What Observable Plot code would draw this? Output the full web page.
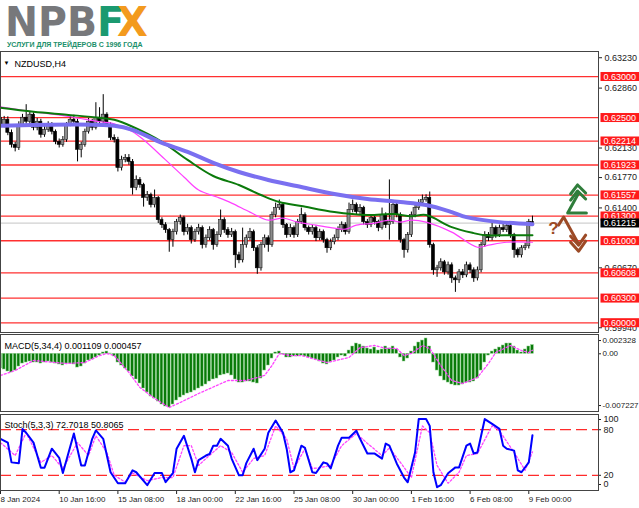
<!DOCTYPE html>
<html><head><meta charset="utf-8">
<script src="https://cdn.jsdelivr.net/npm/d3@7"></script>
<script src="https://cdn.jsdelivr.net/npm/@observablehq/plot@0.6"></script>
<style>
html,body{margin:0;padding:0;background:#fff;}
#wrap{position:relative;width:639px;height:508px;overflow:hidden;}
.panel{position:absolute;left:0;}
#logo{position:absolute;left:0;top:0;z-index:5;overflow:visible;}
</style></head><body>
<div id="wrap">
  <div id="main" class="panel" style="top:0px"></div>
  <div id="macd" class="panel" style="top:333px"></div>
  <div id="stoch" class="panel" style="top:412px"></div>
  <svg id="logo" width="170" height="50">
    <g font-family="DejaVu Sans" font-weight="bold" font-size="40">
      <text x="5" y="36" fill="#77787b" textLength="92" lengthAdjust="spacingAndGlyphs">NPB</text>
      <text x="97" y="36" fill="#1b9a70">F</text>
      <text x="117" y="36" fill="#f39a1e">X</text>
    </g>
    <text x="7" y="47" font-family="Liberation Sans" font-weight="bold" font-size="7" fill="#1a8f6a">УСЛУГИ ДЛЯ ТРЕЙДЕРОВ С 1996 ГОДА</text>
  </svg>
</div>
<script>
// ---------- price data (NZDUSD, H4) ----------
const open = [0.62499,0.62413,0.62474,0.62315,0.62169,0.62132,0.62413,0.62499,0.62450,0.62536,
0.62377,0.62450,0.62291,0.62352,0.62413,0.62328,0.62205,0.62169,0.62230,0.62413,
0.62474,0.62450,0.62108,0.62169,0.62328,0.62450,0.62377,0.62499,0.62450,0.62536,
0.62413,0.62254,0.62230,0.61887,0.61985,0.62010,0.61961,0.61643,0.61741,0.61679,
0.61521,0.61557,0.61435,0.61521,0.61251,0.61190,0.61129,0.61007,0.61105,0.61227,
0.61276,0.61105,0.61154,0.61007,0.61105,0.61154,0.60946,0.61031,0.61129,0.60946,
0.61068,0.61251,0.61129,0.61068,0.61105,0.60823,0.60762,0.60946,0.61031,0.61105,
0.60909,0.60664,0.60946,0.61031,0.60946,0.61313,0.61398,0.61435,0.61190,0.61068,
0.61154,0.61068,0.61227,0.61313,0.61154,0.61105,0.61154,0.61031,0.61105,0.61007,
0.60909,0.60982,0.61031,0.61129,0.61190,0.61105,0.61374,0.61435,0.61349,0.61398,
0.61227,0.61190,0.61276,0.61227,0.61154,0.61313,0.61190,0.61227,0.61435,0.61313,
0.61007,0.60885,0.61068,0.61313,0.61398,0.61459,0.61496,0.61521,0.60946,0.60640,
0.60664,0.60738,0.60615,0.60701,0.60542,0.60518,0.60615,0.60579,0.60701,0.60640,
0.60542,0.60640,0.60946,0.61068,0.61031,0.61154,0.61068,0.61154,0.61129,0.61178,
0.61068,0.60885,0.60823,0.60909,0.60933,0.61227];
const high = [0.62540,0.62515,0.62510,0.62350,0.62200,0.62450,0.62540,0.62658,0.62575,0.62560,
0.62490,0.62480,0.62400,0.62450,0.62440,0.62350,0.62240,0.62270,0.62440,0.62520,
0.62530,0.62480,0.62200,0.62360,0.62490,0.62480,0.62682,0.62621,0.62780,0.62560,
0.62440,0.62290,0.62260,0.62030,0.62050,0.62050,0.61990,0.61790,0.61770,0.61700,
0.61600,0.61580,0.61618,0.61540,0.61280,0.61220,0.61150,0.61140,0.61260,0.61313,
0.61300,0.61200,0.61180,0.61140,0.61200,0.61180,0.61070,0.61170,0.61150,0.61110,
0.61374,0.61280,0.61160,0.61150,0.61130,0.60860,0.61154,0.61070,0.61150,0.61130,
0.60940,0.60980,0.61070,0.61060,0.61350,0.61459,0.61496,0.61460,0.61210,0.61200,
0.61180,0.61260,0.61398,0.61340,0.61180,0.61190,0.61180,0.61140,0.61130,0.61030,
0.61020,0.61070,0.61170,0.61230,0.61220,0.61459,0.61496,0.61460,0.61440,0.61420,
0.61260,0.61310,0.61300,0.61250,0.61398,0.61340,0.61741,0.61470,0.61460,0.61340,
0.61030,0.61100,0.61350,0.61440,0.61500,0.61557,0.61560,0.61594,0.60970,0.60700,
0.60780,0.60760,0.60740,0.60730,0.60570,0.60650,0.60650,0.60740,0.60730,0.60670,
0.60680,0.60980,0.61110,0.61100,0.61227,0.61180,0.61190,0.61227,0.61210,0.61200,
0.61090,0.60910,0.60940,0.60970,0.61260,0.61300];
const low = [0.62370,0.62375,0.62280,0.62130,0.62083,0.62100,0.62380,0.62420,0.62410,0.62340,
0.62340,0.62250,0.62260,0.62320,0.62290,0.62170,0.62130,0.62140,0.62200,0.62390,
0.62420,0.61961,0.62010,0.62140,0.62300,0.62340,0.62350,0.62420,0.62420,0.62380,
0.62220,0.62190,0.61838,0.61850,0.61950,0.61920,0.61557,0.61610,0.61640,0.61410,
0.61480,0.61400,0.61400,0.61210,0.61150,0.61090,0.60860,0.60921,0.61070,0.61190,
0.61060,0.61070,0.60960,0.60980,0.61070,0.60900,0.60910,0.61000,0.60885,0.60920,
0.61040,0.61090,0.61030,0.61040,0.60664,0.60720,0.60730,0.60910,0.61000,0.60870,
0.60591,0.60630,0.60910,0.60860,0.60920,0.61280,0.61370,0.61150,0.61030,0.61040,
0.61030,0.61040,0.61200,0.61120,0.61070,0.61070,0.60990,0.61000,0.60970,0.60848,
0.60880,0.60950,0.61000,0.61100,0.61070,0.61080,0.61340,0.61310,0.61320,0.61190,
0.61150,0.61160,0.61190,0.61110,0.61130,0.61150,0.61007,0.61200,0.61280,0.60970,
0.60787,0.60850,0.61040,0.61280,0.61370,0.61430,0.61470,0.60910,0.60579,0.60554,
0.60630,0.60580,0.60580,0.60481,0.60371,0.60480,0.60540,0.60550,0.60600,0.60493,
0.60510,0.60610,0.60920,0.60990,0.61000,0.61030,0.61040,0.61100,0.61100,0.61030,
0.60787,0.60790,0.60790,0.60880,0.60900,0.61190];
const close = [0.62413,0.62474,0.62315,0.62169,0.62132,0.62413,0.62499,0.62450,0.62536,0.62377,
0.62450,0.62291,0.62352,0.62413,0.62328,0.62205,0.62169,0.62230,0.62413,0.62474,
0.62450,0.62108,0.62169,0.62328,0.62450,0.62377,0.62499,0.62450,0.62536,0.62413,
0.62254,0.62230,0.61887,0.61985,0.62010,0.61961,0.61643,0.61741,0.61679,0.61521,
0.61557,0.61435,0.61521,0.61251,0.61190,0.61129,0.61007,0.61105,0.61227,0.61276,
0.61105,0.61154,0.61007,0.61105,0.61154,0.60946,0.61031,0.61129,0.60946,0.61068,
0.61251,0.61129,0.61068,0.61105,0.60823,0.60762,0.60946,0.61031,0.61105,0.60909,
0.60664,0.60946,0.61031,0.60946,0.61313,0.61398,0.61435,0.61190,0.61068,0.61154,
0.61068,0.61227,0.61313,0.61154,0.61105,0.61154,0.61031,0.61105,0.61007,0.60909,
0.60982,0.61031,0.61129,0.61190,0.61105,0.61374,0.61435,0.61349,0.61398,0.61227,
0.61190,0.61276,0.61227,0.61154,0.61313,0.61190,0.61227,0.61435,0.61313,0.61007,
0.60885,0.61068,0.61313,0.61398,0.61459,0.61496,0.61521,0.60946,0.60640,0.60664,
0.60738,0.60615,0.60701,0.60542,0.60518,0.60615,0.60579,0.60701,0.60640,0.60542,
0.60640,0.60946,0.61068,0.61031,0.61154,0.61068,0.61154,0.61129,0.61178,0.61068,
0.60885,0.60823,0.60909,0.60933,0.61227,0.61215];

// moving averages: [bar, price]
const maBlue = [[0,0.62401],[31,0.62401],[36,0.62352],[44,0.62193],[51,0.62083],[58,0.61949],[65,0.61838],[73,0.61741],[82,0.61655],[91,0.61569],[100,0.61508],[109,0.61472],[116,0.61435],[123,0.61349],[127,0.61288],[136,0.61227],[145,0.61202]];
const maGreen = [[0,0.62621],[9,0.62572],[18,0.62536],[27,0.62499],[31,0.62474],[36,0.62389],[44,0.62205],[51,0.61985],[58,0.61789],[65,0.61679],[71,0.61557],[76,0.61472],[82,0.61423],[91,0.61349],[100,0.61313],[107,0.61325],[112,0.61300],[116,0.61313],[123,0.61166],[129,0.61093],[132,0.61068],[140,0.61068],[145,0.61068]];
const maMagenta = [[0,0.62633],[9,0.62572],[19,0.62511],[27,0.62450],[31,0.62425],[36,0.62328],[39,0.62230],[45,0.61985],[50,0.61777],[54,0.61618],[59,0.61533],[63,0.61459],[68,0.61349],[73,0.61251],[77,0.61276],[81,0.61227],[86,0.61190],[91,0.61154],[94,0.61141],[97,0.61190],[102,0.61215],[106,0.61251],[109,0.61227],[112,0.61251],[116,0.61227],[123,0.61105],[130,0.60921],[133,0.60946],[138,0.60982],[145,0.60982]];

const levels = [0.63, 0.625, 0.62214, 0.61923, 0.61557, 0.613, 0.61, 0.60608, 0.603, 0.6];
const lastPrice = 0.61215;
const priceTicks = [0.6323, 0.6286, 0.6213, 0.6177, 0.6140, 0.6067, 0.5994];

// annotation arrows: [bar, price]
const arrowUpStem = [[159.7,0.61337],[154.6,0.61337],[157.6,0.61582]];
const arrowUpHeadA = [[155.4,0.61570],[157.3,0.61680],[159.5,0.61582]];
const arrowUpHeadB = [[155.4,0.61496],[157.3,0.61606],[159.5,0.61509]];
const arrowDnStem = [[152.1,0.61191],[153.5,0.61289],[157.6,0.60958]];
const arrowDnHeadA = [[155.4,0.61056],[157.6,0.60946],[159.5,0.61068]];
const arrowDnHeadB = [[155.4,0.60983],[157.6,0.60873],[159.5,0.60995]];
const questionMark = [[150.7,0.61154]];

// ---------- MACD(5,34,4) ----------
const macdHist = [-0.00187,-0.00200,-0.00225,-0.00238,-0.00213,-0.00162,-0.00124,-0.00111,-0.00098,-0.00111,
-0.00111,-0.00124,-0.00111,-0.00098,-0.00111,-0.00124,-0.00136,-0.00149,-0.00124,-0.00124,
-0.00136,-0.00175,-0.00162,-0.00124,-0.00085,-0.00073,-0.00047,-0.00022,0.00017,0.00029,
0.00004,-0.00034,-0.00111,-0.00149,-0.00187,-0.00225,-0.00289,-0.00327,-0.00378,-0.00442,
-0.00493,-0.00544,-0.00569,-0.00608,-0.00646,-0.00671,-0.00684,-0.00646,-0.00595,-0.00557,
-0.00531,-0.00506,-0.00493,-0.00468,-0.00442,-0.00417,-0.00391,-0.00353,-0.00327,-0.00315,
-0.00276,-0.00264,-0.00251,-0.00276,-0.00327,-0.00366,-0.00366,-0.00353,-0.00353,-0.00366,
-0.00378,-0.00315,-0.00213,-0.00149,-0.00060,0.00017,0.00029,-0.00009,-0.00047,-0.00047,
-0.00034,-0.00034,-0.00022,-0.00034,-0.00047,-0.00060,-0.00073,-0.00098,-0.00124,-0.00136,
-0.00111,-0.00085,-0.00047,-0.00022,-0.00034,0.00042,0.00093,0.00131,0.00118,0.00093,
0.00068,0.00055,0.00080,0.00042,0.00055,0.00093,0.00068,0.00093,0.00055,-0.00047,
-0.00098,-0.00060,0.00029,0.00093,0.00144,0.00169,0.00195,0.00093,-0.00111,-0.00213,
-0.00289,-0.00340,-0.00366,-0.00391,-0.00404,-0.00404,-0.00391,-0.00366,-0.00366,-0.00353,
-0.00315,-0.00213,-0.00111,-0.00022,0.00029,0.00055,0.00080,0.00106,0.00131,0.00131,
0.00093,0.00042,0.00017,0.00055,0.00093,0.001109];
const macdSignal = [[0,-0.00276],[4,-0.00213],[9,-0.00085],[18,-0.00124],[23,-0.00111],[27,-0.00022],[29,0.00004],[31,-0.00022],[35,-0.00238],[38,-0.00429],[42,-0.00569],[46,-0.00684],[49,-0.00620],[54,-0.00506],[62,-0.00340],[67,-0.00340],[72,-0.00276],[74,-0.00149],[76,0.00004],[79,-0.00022],[82,-0.00022],[89,-0.00111],[95,-0.00047],[98,0.00080],[102,0.00106],[105,0.00068],[108,0.00068],[110,-0.00022],[112,0.00004],[115,0.00106],[117,0.00068],[120,-0.00149],[123,-0.00340],[126,-0.00378],[130,-0.00302],[133,-0.00124],[135,0.00017],[139,0.00106],[142,0.00042],[144,0.00017],[145,0.000457]];
const macdTitle = "MACD(5,34,4) 0.001109 0.000457";

// ---------- Stochastic(5,3,3) ----------
const stochMain = [[0,68],[2,63],[3,37],[5,36],[6,81],[7,76],[9,63],[11,30],[12,30],[14,55],[16,43],[17,23],[20,75],[22,33],[23,33],[25,68],[26,79],[28,68],[30,24],[32,9.5],[34,9.5],[36,26.5],[37,24],[40,7],[42,23],[44,23],[45,11],[47,23],[48,55],[50,72],[52,42],[53,24],[54,40],[56,46],[57,48],[58,59],[59,59],[60,68],[62,59],[63,42],[65,20],[66,20],[67,36],[69,55],[70,40],[72,55],[73,76],[75,92],[77,76],[78,55],[79,24],[80,26.5],[82,59],[83,56],[85,24],[86,23],[88,37],[89,35.6],[90,29],[92,59],[93,69.5],[95,69.5],[97,78.6],[98,68],[100,48.6],[102,48.6],[104,42],[105,61.7],[106,59],[108,35.6],[110,17],[111,10.8],[113,50],[114,94],[116,94],[117,85],[118,24],[119,4.3],[120,7],[122,22.6],[124,30.4],[125,30.4],[127,59],[128,61.7],[129,48.6],[130,50],[132,94],[134,87.7],[136,81],[137,59],[138,55],[140,52.5],[141,26.5],[142,24],[144,37],[145,72.7]];
const stochSignal = [[0,63],[4,46],[7,76],[11,37],[14,46],[17,29],[21,63],[24,46],[26,72],[29,50],[31,20],[34,11],[36,23],[40,13],[44,17],[47,17],[50,59],[52,59],[54,33],[56,42],[60,59],[63,50],[66,24],[69,42],[72,46],[75,85],[78,68],[80,29],[83,55],[85,29],[87,30],[90,33],[93,59],[97,75],[100,62],[104,46],[106,56],[109,37],[112,17],[115,85],[117,76],[119,33],[122,9.5],[125,24],[127,46],[130,48.6],[134,85],[136,78.6],[140,50],[143,26.5],[145,50.8]];
const stochLevels = [80, 20];
const stochTitle = "Stoch(5,3,3) 72.7018 50.8065";

// ---------- time axis ----------
const xTickBars = [0,16,32,48,64,80,96,112,128,144];
const xTickLabels = ["8 Jan 2024","10 Jan 16:00","15 Jan 08:00","18 Jan 00:00","22 Jan 16:00","25 Jan 08:00","30 Jan 00:00","1 Feb 16:00","6 Feb 08:00","9 Feb 00:00"];

// ---------- build ----------
const xDomain = [0, 163];
const candles = close.map((c, i) => ({i, o: open[i], h: high[i], l: low[i], c}));
const upC = candles.filter(d => d.c >= d.o);
const dnC = candles.filter(d => d.c < d.o);
const macdRows = macdHist.map((v, i) => ({i, v}));
const X = d => d[0], Y = d => d[1];
const fmt5 = d3.format(".5f");
const xLabelMap = new Map(xTickBars.map((b, k) => [b, xTickLabels[k]]));

const common = {
  width: 639, marginLeft: 0, marginRight: 41,
  style: {fontFamily: "Liberation Sans, Arial, sans-serif", fontSize: "9px", background: "transparent", color: "#000", overflow: "visible"}
};

const mainPlot = Plot.plot({
  ...common, height: 334, marginTop: 51, marginBottom: 2,
  x: {domain: xDomain, axis: null},
  y: {domain: [0.59882, 0.63306], axis: null},
  marks: [
    Plot.ruleY(levels, {stroke: "#ff3030", strokeWidth: 1.3}),
    Plot.ruleY([lastPrice], {stroke: "#c4c4c4", strokeWidth: 1}),
    Plot.ruleX(candles, {x: "i", y1: "l", y2: "h", stroke: "#000", strokeWidth: 1}),
    Plot.rect(upC, {x1: d => d.i - 0.42, x2: d => d.i + 0.42, y1: "o", y2: "c", fill: "#8c8c8c", stroke: "#1a1a1a", strokeWidth: 0.6}),
    Plot.rect(dnC, {x1: d => d.i - 0.42, x2: d => d.i + 0.42, y1: "o", y2: "c", fill: "#000", stroke: "#000", strokeWidth: 0.6}),
    Plot.line(maMagenta, {x: X, y: Y, stroke: "#ff40ff", strokeWidth: 1.2, curve: "catmull-rom"}),
    Plot.line(maGreen, {x: X, y: Y, stroke: "#0b7a0b", strokeWidth: 2, curve: "catmull-rom"}),
    Plot.line(maBlue, {x: X, y: Y, stroke: "#7a6ff0", strokeWidth: 4, curve: "catmull-rom"}),
    Plot.line(arrowUpStem, {x: X, y: Y, stroke: "#2f7d3a", strokeWidth: 3}),
    Plot.line(arrowUpHeadA, {x: X, y: Y, stroke: "#2f7d3a", strokeWidth: 3}),
    Plot.line(arrowUpHeadB, {x: X, y: Y, stroke: "#2f7d3a", strokeWidth: 3}),
    Plot.line(arrowDnStem, {x: X, y: Y, stroke: "#9c4a26", strokeWidth: 3}),
    Plot.line(arrowDnHeadA, {x: X, y: Y, stroke: "#9c4a26", strokeWidth: 3}),
    Plot.line(arrowDnHeadB, {x: X, y: Y, stroke: "#9c4a26", strokeWidth: 3}),
    Plot.text(questionMark, {x: X, y: Y, text: () => "?", fill: "#9c4a26", fontSize: 17, fontWeight: "bold"}),
    Plot.axisY({anchor: "right", ticks: priceTicks, tickFormat: fmt5, tickSize: 3, tickPadding: 3, color: "#222", label: null}),
    Plot.text(levels, {x: xDomain[1], y: d => d, text: fmt5, textAnchor: "start", dx: 5, fill: "#fff"}),
    Plot.text([lastPrice], {x: xDomain[1], y: d => d, text: fmt5, textAnchor: "start", dx: 5, fill: "#fff"}),
    Plot.frame({stroke: "#444"}),
    Plot.text(["NZDUSD,H4"], {frameAnchor: "top-left", dx: 14, dy: 9, textAnchor: "start", fill: "#000"}),
    Plot.text(["▼"], {frameAnchor: "top-left", dx: 3, dy: 9, textAnchor: "start", fontSize: 6, fill: "#000"})
  ]
});
document.getElementById("main").appendChild(mainPlot);

const macdPlot = Plot.plot({
  ...common, height: 80, marginTop: 1, marginBottom: 2,
  x: {domain: xDomain, axis: null},
  y: {domain: [-0.00735, 0.00246], axis: null},
  marks: [
    Plot.rect(macdRows, {x1: d => d.i - 0.38, x2: d => d.i + 0.38, y1: 0, y2: "v", fill: "#087a08", stroke: "#8ccf8c", strokeWidth: 0.5}),
    Plot.line(macdSignal, {x: X, y: Y, stroke: "#ff44ff", strokeWidth: 1.3, strokeDasharray: "2,2"}),
    Plot.axisY({anchor: "right", ticks: [0.002328], tickFormat: d => d.toFixed(6), tickSize: 2, tickPadding: 2, dy: 5, fontSize: 8, color: "#222", label: null}),
    Plot.axisY({anchor: "right", ticks: [0], tickFormat: d => d.toFixed(2), tickSize: 2, tickPadding: 2, fontSize: 8, color: "#222", label: null}),
    Plot.axisY({anchor: "right", ticks: [-0.007227], tickFormat: d => d.toFixed(6), tickSize: 2, tickPadding: 2, dy: -5, fontSize: 8, color: "#222", label: null}),
    Plot.frame({stroke: "#444"}),
    Plot.text([macdTitle], {frameAnchor: "top-left", dx: 4, dy: 8, textAnchor: "start", fill: "#000"})
  ]
});
document.getElementById("macd").appendChild(macdPlot);

const stochPlot = Plot.plot({
  ...common, height: 96, marginTop: 2, marginBottom: 18,
  x: {domain: xDomain, axis: null},
  y: {domain: [0, 100], axis: null},
  marks: [
    Plot.ruleY(stochLevels, {stroke: "#ff2b2b", strokeWidth: 1.3, strokeDasharray: "11,5"}),
    Plot.line(stochSignal, {x: X, y: Y, stroke: "#ff44ff", strokeWidth: 1.3, strokeDasharray: "2,2"}),
    Plot.line(stochMain, {x: X, y: Y, stroke: "#0000ff", strokeWidth: 2}),
    Plot.axisY({anchor: "right", ticks: [100], tickFormat: d => String(d), tickSize: 2, tickPadding: 3, dy: 5, color: "#222", label: null}),
    Plot.axisY({anchor: "right", ticks: stochLevels, tickFormat: d => String(d), tickSize: 2, tickPadding: 3, color: "#222", label: null}),
    Plot.axisY({anchor: "right", ticks: [0], tickFormat: d => String(d), tickSize: 2, tickPadding: 3, dy: -6, color: "#222", label: null}),
    Plot.axisX({anchor: "bottom", ticks: xTickBars, tickFormat: d => xLabelMap.get(d), tickSize: 4, tickPadding: 2, textAnchor: "start", fontSize: 8, color: "#222", label: null}),
    Plot.frame({stroke: "#444"}),
    Plot.text([stochTitle], {frameAnchor: "top-left", dx: 4, dy: 7, textAnchor: "start", fill: "#000"})
  ]
});
document.getElementById("stoch").appendChild(stochPlot);

// coloured boxes behind the right-hand level labels (white text)
const levelStrings = new Set(levels.map(fmt5));
const lastString = fmt5(lastPrice);
mainPlot.querySelectorAll("text").forEach(t => {
  const s = t.textContent;
  const g = t.closest("g");
  const isWhite = g && /^(#fff|#ffffff|white)$/i.test(g.getAttribute("fill") || "");
  if (!isWhite) return;
  let fill = null;
  if (levelStrings.has(s)) fill = "#ff1a1a";
  else if (s === lastString) fill = "#000";
  if (!fill) return;
  const b = t.getBBox();
  const r = document.createElementNS("http://www.w3.org/2000/svg", "rect");
  r.setAttribute("x", b.x - 3);
  r.setAttribute("y", b.y + b.height / 2 - 4.5);
  r.setAttribute("width", b.width + 6);
  r.setAttribute("height", 9);
  r.setAttribute("fill", fill);
  const tr = t.getAttribute("transform");
  if (tr) r.setAttribute("transform", tr);
  t.parentNode.insertBefore(r, t);
});
</script>
</body></html>
